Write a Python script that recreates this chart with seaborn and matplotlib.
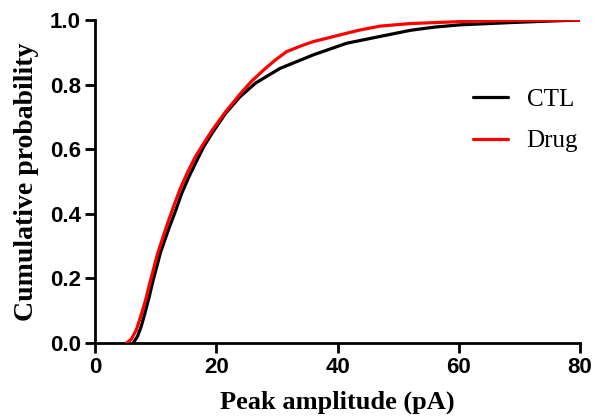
import numpy as np
import pandas as pd
import matplotlib
matplotlib.use("Agg")
import matplotlib.pyplot as plt
import seaborn as sns

# Data: peak amplitude (pA) vs cumulative probability
amp_ctl = [6.3, 7.0, 7.6, 8.2, 8.9, 9.6, 10.8, 12.1, 13.3, 14.3, 15.5, 16.8, 18.0,
           19.3, 21.5, 23.9, 26.5, 30.5, 36.0, 41.5, 47.0, 52.0, 56.0, 60.2, 68.5,
           74.0, 80.0]
cum_ctl = [0.0, 0.02, 0.05, 0.09, 0.14, 0.195, 0.28, 0.35, 0.41, 0.463, 0.515, 0.565, 0.61,
           0.649, 0.71, 0.762, 0.805, 0.85, 0.892, 0.928, 0.949, 0.968, 0.978, 0.985, 0.992,
           0.996, 1.0]

amp_drug = [5.2, 6.0, 6.8, 7.5, 8.3, 9.1, 10.3, 11.6, 12.9, 14.0, 15.3, 16.6, 18.0,
            19.3, 21.5, 23.9, 25.8, 27.8, 29.8, 31.6, 34.0, 36.0, 41.5, 43.7, 47.0,
            52.0, 60.2, 68.0, 80.0]
cum_drug = [0.0, 0.012, 0.04, 0.08, 0.13, 0.19, 0.275, 0.35, 0.42, 0.475, 0.53, 0.578, 0.62,
            0.658, 0.715, 0.77, 0.81, 0.845, 0.877, 0.902, 0.92, 0.933, 0.959, 0.969, 0.981,
            0.989, 0.995, 0.998, 1.0]

x_ticks = [0, 20, 40, 60, 80]
y_ticks = [0.0, 0.2, 0.4, 0.6, 0.8, 1.0]
y_tick_labels = ["0.0", "0.2", "0.4", "0.6", "0.8", "1.0"]

df = pd.concat([
    pd.DataFrame({"amp": amp_ctl, "cum": cum_ctl, "group": "CTL"}),
    pd.DataFrame({"amp": amp_drug, "cum": cum_drug, "group": "Drug"}),
], ignore_index=True)

sns.set_style("ticks")
fig = plt.figure(figsize=(6.09, 4.19), dpi=100)
ax = fig.add_axes([95 / 609, 76 / 419, 485 / 609, 323 / 419])

sns.lineplot(data=df, x="amp", y="cum", hue="group", palette={"CTL": "black", "Drug": "red"},
             sort=False, estimator=None, linewidth=2.3, ax=ax)

ax.set_xlim(0, 80)
ax.set_ylim(0, 1.0)
tick_font = dict(family="Liberation Sans", weight="bold", size=16, color="black")
ax.set_xticks(x_ticks, labels=[str(t) for t in x_ticks], **tick_font)
ax.set_yticks(y_ticks, labels=y_tick_labels, **tick_font)
ax.tick_params(width=2, length=7, color="black", pad=3)

sns.despine(ax=ax)
for s in ["left", "bottom"]:
    ax.spines[s].set_linewidth(2)
    ax.spines[s].set_color("black")
    ax.spines[s].set_zorder(0)

ax.set_xlabel("Peak amplitude (pA)", family="Liberation Serif", weight="bold", size=19,
              color="black")
ax.set_ylabel("Cumulative probability", family="Liberation Serif", weight="bold", size=20,
              color="black")
# label centres (axes box spans 95..580 x, 20..343 y in pixels)
ax.xaxis.set_label_coords(0.5, (343 - 402) / 323)
ax.xaxis.label.set_va("center")
ax.yaxis.set_label_coords((27 - 95) / 485, 0.5)
ax.yaxis.label.set_va("center")

leg = ax.legend(loc="center left", bbox_to_anchor=(0.779, 0.689), frameon=False,
                handlelength=1.4, handletextpad=0.75, labelspacing=0.75,
                borderpad=0, borderaxespad=0,
                prop={"family": "Liberation Serif", "size": 18})
for line in leg.get_lines():
    line.set_linewidth(2.3)
for t in leg.get_texts():
    t.set_color("black")

fig.savefig("out.png", dpi=100)
